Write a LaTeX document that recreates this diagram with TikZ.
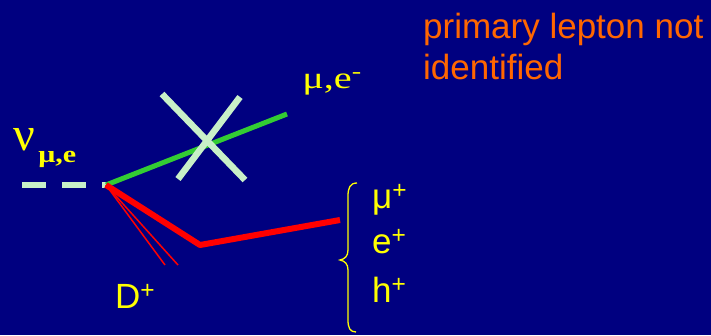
\documentclass[tikz,border=0pt]{standalone}
\usepackage{fontspec}
\setmainfont{Liberation Serif}
\setsansfont{Liberation Sans}
\definecolor{bg}{HTML}{000080}
\definecolor{ylw}{HTML}{FFFF00}
\definecolor{orng}{HTML}{FF6600}
\definecolor{mint}{HTML}{C8F0C8}
\definecolor{grn}{HTML}{33CC33}
\definecolor{rd}{HTML}{FF0000}
\tikzset{
  lbl/.style={anchor=base west, inner sep=0pt, text=ylw},
  serifbig/.style={font=\fontsize{31}{31}\selectfont, xscale=1.3},
  sanslbl/.style={font=\sffamily\fontsize{35}{35}\selectfont},
  note/.style={anchor=base west, inner sep=0pt, text=orng, font=\sffamily\fontsize{35}{35}\selectfont},
  track/.style={line width=6pt},
}
\begin{document}
\begin{tikzpicture}[x=1pt,y=-1pt]
\fill[bg] (0,0) rectangle (711,335);
\useasboundingbox (0,0) rectangle (711,335);
\coordinate (nuin) at (22,185);
\coordinate (v) at (106,185);
\coordinate (lep) at (287,114);
\coordinate (kink) at (200,245);
\coordinate (dend) at (340,220);
\coordinate (t1) at (165,265);
\coordinate (t2) at (178,265);
\coordinate (x1a) at (162,94);
\coordinate (x1b) at (245,180);
\coordinate (x2a) at (240,97);
\coordinate (x2b) at (178,179);
% neutrino
\draw[mint, line width=6pt, dash pattern=on 24pt off 16pt] (nuin) -- (v);
% primary lepton
\draw[grn, line width=5pt] (v) -- (lep);
% cross
\draw[mint, line width=6.5pt] (x1a) -- (x1b);
\draw[mint, line width=6.5pt] (x2a) -- (x2b);
% charm
\draw[rd, line width=1.5pt] (v) -- (t1);
\draw[rd, line width=1.5pt] (v) -- (t2);
\draw[rd, track, line join=round] (v) -- (kink) -- (dend);
% brace
\coordinate (bt) at (357,183);
\coordinate (btip) at (340,260);
\coordinate (bb) at (356,332);
\draw[ylw, line width=1.3pt] (bt) .. controls (350,183) and (348,188) .. (348,196)
  -- (348,250) .. controls (348,256) and (345,259) .. (btip)
  .. controls (345,261) and (348,264) .. (348,270)
  -- (348,320) .. controls (348,328) and (350,332) .. (bb);
% labels
\node[lbl, font=\fontsize{48}{48}\selectfont] (nu) at (13,150) {ν};
\node[lbl, font=\bfseries\fontsize{24}{24}\selectfont, xscale=1.25] (nusub) at (38,162) {μ,e};
\node[lbl, serifbig] (mue) at (302,88) {μ,e\textsuperscript{-}};
\node[lbl, sanslbl] (mup) at (372,208) {μ\textsuperscript{+}};
\node[lbl, sanslbl] (ep) at (372,253) {e\textsuperscript{+}};
\node[lbl, sanslbl] (hp) at (372,302) {h\textsuperscript{+}};
\node[lbl, sanslbl] (dp) at (115,308) {D\textsuperscript{+}};
\node[note] (n1) at (423,38) {primary lepton not};
\node[note] (n2) at (423,79) {identified};
\end{tikzpicture}
\end{document}
